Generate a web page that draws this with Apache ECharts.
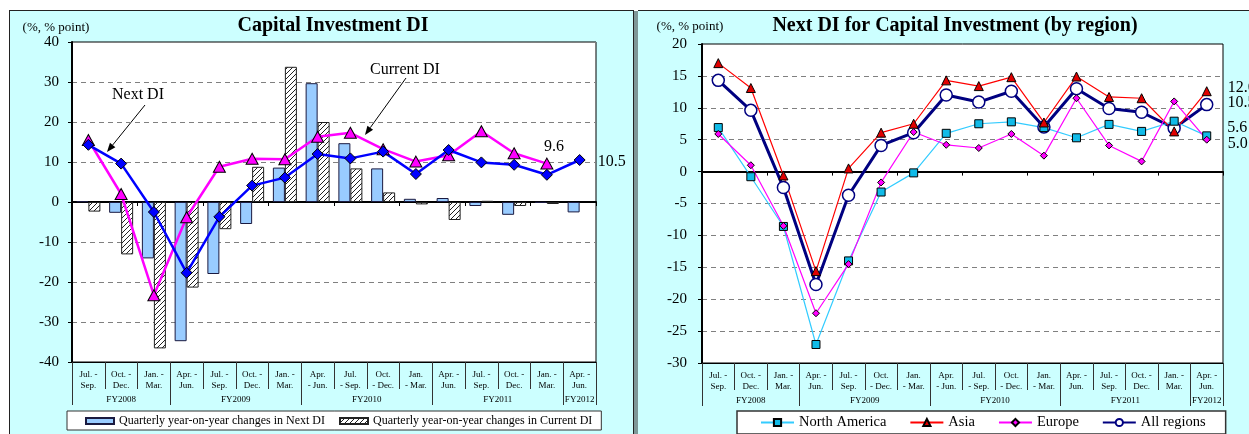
<!DOCTYPE html>
<html>
<head>
<meta charset="utf-8">
<script src="https://cdn.jsdelivr.net/npm/echarts@6/dist/echarts.min.js"></script>
<style>
  html, body { margin: 0; padding: 0; background: #fff; width: 1249px; height: 434px; overflow: hidden; }
  .panel { position: absolute; background: #ccffff; box-sizing: border-box; }
  #panelLeft { left: 9px; top: 10px; width: 625px; height: 440px; border-left: 1px solid #222; border-top: 1px solid #222; border-right: 1px solid #222; }
  #divider { position: absolute; left: 634px; top: 11px; width: 4px; height: 440px; background: #7e9898; }
  #panelRight { left: 638px; top: 10px; width: 640px; height: 440px; border-top: 1px solid #222; }
  #chart { position: absolute; left: 0; top: 0; width: 1249px; height: 434px; }
</style>
</head>
<body>
<div class="panel" id="panelLeft"></div>
<div id="divider"></div>
<div class="panel" id="panelRight"></div>
<div id="chart"></div>
<script>
// ---- quarters and fiscal years ----
const quartersLeft = ['Jul. -\nSep.', 'Oct. -\nDec.', 'Jan. -\nMar.', 'Apr. -\nJun.', 'Jul. -\nSep.', 'Oct. -\nDec.', 'Jan. -\nMar.',
  'Apr.\n- Jun.', 'Jul.\n- Sep.', 'Oct.\n- Dec.', 'Jan.\n- Mar.', 'Apr. -\nJun.', 'Jul. -\nSep.', 'Oct. -\nDec.', 'Jan. -\nMar.', 'Apr. -\nJun.'];
const quartersRight = ['Jul. -\nSep.', 'Oct. -\nDec.', 'Jan. -\nMar.', 'Apr. -\nJun.', 'Jul. -\nSep.', 'Oct.\n- Dec.', 'Jan.\n- Mar.',
  'Apr.\n- Jun.', 'Jul.\n- Sep.', 'Oct.\n- Dec.', 'Jan.\n- Mar.', 'Apr. -\nJun.', 'Jul. -\nSep.', 'Oct. -\nDec.', 'Jan. -\nMar.', 'Apr. -\nJun.'];
const fiscalYears = ['FY2008', 'FY2009', 'FY2010', 'FY2011', 'FY2012'];
const fiscalYearBounds = [0, 3, 7, 11, 15, 16];   // quarter index where each fiscal year starts (last = end)

// ---- Capital Investment DI (%, % point) ----
const nextDI = [14.3, 9.6, -2.5, -17.7, -3.7, 4.1, 6.1, 12.0, 10.9, 12.6, 7.0, 13.0, 9.9, 9.3, 6.8, 10.5];
const currentDI = [15.5, 2.0, -23.3, -3.8, 8.8, 10.8, 10.7, 16.3, 17.3, 13.2, 10.1, 11.7, 17.7, 12.2, 9.6, null];
const nextDIChange = [0.2, -2.7, -14.1, -34.8, -18.0, -5.5, 8.6, 29.7, 14.7, 8.4, 0.8, 1.0, -1.0, -3.2, -0.2, -2.6];
const currentDIChange = [-2.4, -13.1, -36.6, -21.4, -6.8, 8.8, 33.8, 20.0, 8.4, 2.4, -0.6, -4.5, 0.3, -1.0, -0.5, null];

// ---- Next DI by region ----
const northAmerica = [6.9, -0.8, -8.6, -27.1, -14.0, -3.2, -0.2, 6.0, 7.5, 7.8, 6.9, 5.3, 7.4, 6.3, 7.9, 5.6];
const asia = [17.0, 13.1, -0.6, -15.6, 0.5, 6.1, 7.5, 14.3, 13.4, 14.8, 7.7, 14.9, 11.7, 11.5, 6.3, 12.6];
const europe = [5.9, 1.0, -8.5, -22.2, -14.5, -1.7, 6.2, 4.2, 3.7, 5.9, 2.5, 11.5, 4.1, 1.6, 11.0, 5.0];
const allRegions = [14.3, 9.6, -2.5, -17.7, -3.7, 4.1, 6.1, 12.0, 10.9, 12.6, 7.0, 13.0, 9.9, 9.3, 6.8, 10.5];

const SERIF = "'Liberation Serif', 'Times New Roman', serif";

// diagonal hatch used for the Current DI change bars
function hatchPattern() {
  const s = 5;
  const c = document.createElement('canvas');
  c.width = s; c.height = s;
  const g = c.getContext('2d');
  g.fillStyle = '#fff'; g.fillRect(0, 0, s, s);
  g.strokeStyle = '#222'; g.lineWidth = 1;
  g.beginPath();
  g.moveTo(0, s); g.lineTo(s, 0);
  g.moveTo(-1, 1); g.lineTo(1, -1);
  g.moveTo(s - 1, s + 1); g.lineTo(s + 1, s - 1);
  g.stroke();
  return { image: c, repeat: 'repeat' };
}

// put a value label on one point of a series
function labelAt(values, index, label) {
  return values.map((v, i) => i === index ? { value: v, label: Object.assign({ show: true, fontFamily: SERIF, fontSize: 16, color: '#000', formatter: p => Number(p.value).toFixed(1) }, label) } : v);
}

// three x axes per grid: quarter labels, zero line, fiscal-year row
function quarterAxes(gridIndex, quarters) {
  const fyCenters = fiscalYears.map((_, k) => (fiscalYearBounds[k] + fiscalYearBounds[k + 1]) / 2);
  return [
    {
      type: 'category', gridIndex, data: quarters, position: 'bottom',
      axisLine: { onZero: false, lineStyle: { color: '#000', width: 1 } },
      axisTick: { show: true, length: 27, lineStyle: { color: '#333' } },
      axisLabel: { interval: 0, fontFamily: SERIF, fontSize: 9, lineHeight: 11, color: '#000', margin: 7 },
      splitLine: { show: false }
    },
    {
      type: 'category', gridIndex, data: quarters, position: 'top',
      axisLine: { onZero: true, lineStyle: { color: '#000', width: 2 } },
      axisTick: { show: true, inside: true, length: 4, lineStyle: { color: '#000' } },
      axisLabel: { show: false }, splitLine: { show: false }
    },
    {
      type: 'value', gridIndex, min: 0, max: quarters.length, position: 'bottom',
      axisLine: { show: false, onZero: false },
      splitLine: { show: false },
      axisTick: { show: true, length: 43, customValues: fiscalYearBounds, lineStyle: { color: '#333' } },
      axisLabel: {
        customValues: fyCenters, margin: 33, fontFamily: SERIF, fontSize: 9, color: '#000',
        formatter: v => { const k = fyCenters.indexOf(v); return k >= 0 ? fiscalYears[k] : ''; }
      }
    }
  ];
}

function valueAxis(gridIndex, min, max, interval, margin) {
  return {
    type: 'value', gridIndex, min, max, interval,
    axisLine: { show: true, onZero: false, lineStyle: { color: '#000', width: 2 } },
    axisTick: { show: true, length: 4, lineStyle: { color: '#000' } },
    axisLabel: { fontFamily: SERIF, fontSize: 15, color: '#000', margin },
    splitLine: { show: true, lineStyle: { color: '#808080', type: [5, 4], width: 1 } }
  };
}

function arrow(x1, y1, x2, y2) {
  const dx = x2 - x1, dy = y2 - y1, len = Math.hypot(dx, dy);
  const ux = dx / len, uy = dy / len, h = 9, w = 3.5;
  const bx = x2 - ux * h, by = y2 - uy * h;
  return [
    { type: 'line', shape: { x1, y1, x2: bx, y2: by }, style: { stroke: '#000', lineWidth: 1 } },
    { type: 'polygon', shape: { points: [[x2, y2], [bx - uy * w, by + ux * w], [bx + uy * w, by - ux * w]] }, style: { fill: '#000' } }
  ];
}

function text(x, y, str, font, align) {
  return { type: 'text', x, y, style: { text: str, font, fill: '#000', align: align || 'center', verticalAlign: 'middle' } };
}

const chart = echarts.init(document.getElementById('chart'), null, { renderer: 'canvas' });

const option = {
  animation: false,
  backgroundColor: 'transparent',
  grid: [
    { left: 72, top: 42, width: 524, height: 320, show: true, backgroundColor: '#fff', borderColor: '#000', borderWidth: 1 },
    { left: 702, top: 44, width: 521, height: 319, show: true, backgroundColor: '#fff', borderColor: '#000', borderWidth: 1 }
  ],
  xAxis: [...quarterAxes(0, quartersLeft), ...quarterAxes(1, quartersRight)],
  yAxis: [valueAxis(0, -40, 40, 10, 13), valueAxis(1, -30, 20, 5, 15)],
  legend: [
    {
      data: ['Quarterly year-on-year changes in Next DI', 'Quarterly year-on-year changes in Current DI'],
      left: 67, top: 411, itemWidth: 28, itemHeight: 6, itemGap: 14, icon: 'rect',
      padding: [4, 9, 3, 18], backgroundColor: '#fff', borderColor: '#333', borderWidth: 1, borderRadius: 0,
      textStyle: { fontFamily: SERIF, fontSize: 12, color: '#000' }
    },
    {
      data: ['North America', 'Asia', 'Europe', 'All regions'],
      left: 737, top: 411, itemWidth: 33, itemHeight: 9, itemGap: 23,
      padding: [4, 20, 4, 23], backgroundColor: '#fff', borderColor: '#333', borderWidth: 1.5, borderRadius: 0,
      textStyle: { fontFamily: SERIF, fontSize: 14.5, color: '#000' }
    }
  ],
  graphic: [
    text(333, 26, 'Capital Investment DI', 'bold 20px ' + SERIF),
    text(955, 26, 'Next DI for Capital Investment (by region)', 'bold 20px ' + SERIF),
    text(56, 28, '(%, % point)', '13px ' + SERIF),
    text(690, 27, '(%, % point)', '13px ' + SERIF),
    text(138, 95, 'Next DI', '16px ' + SERIF),
    text(405, 70, 'Current DI', '16px ' + SERIF),
    ...arrow(145, 105, 107, 152),
    ...arrow(406, 78, 365, 135)
  ],
  series: [
    {
      name: 'Quarterly year-on-year changes in Next DI', type: 'bar', xAxisIndex: 0, yAxisIndex: 0,
      data: nextDIChange, barWidth: 12, barGap: '0%',
      itemStyle: { color: '#99ccff', borderColor: '#1a1a40', borderWidth: 1 }
    },
    {
      name: 'Quarterly year-on-year changes in Current DI', type: 'bar', xAxisIndex: 0, yAxisIndex: 0,
      data: currentDIChange, barWidth: 12, barGap: '0%',
      itemStyle: { color: hatchPattern(), borderColor: '#222', borderWidth: 1 }
    },
    {
      name: 'Current DI', type: 'line', xAxisIndex: 0, yAxisIndex: 0,
      data: labelAt(currentDI, 14, { position: 'top', distance: 3, offset: [7, 0] }),
      symbol: 'triangle', symbolSize: [12, 11], lineStyle: { color: '#ff00ff', width: 2.5 },
      itemStyle: { color: '#ff00ff', borderColor: '#000', borderWidth: 1 }
    },
    {
      name: 'Next DI', type: 'line', xAxisIndex: 0, yAxisIndex: 0,
      data: labelAt(nextDI, 15, { position: 'right', distance: 12, offset: [0, 2] }),
      symbol: 'diamond', symbolSize: 11, lineStyle: { color: '#0000ff', width: 2.5 },
      itemStyle: { color: '#0000ff', borderColor: '#000', borderWidth: 1 }
    },
    {
      name: 'All regions', type: 'line', xAxisIndex: 3, yAxisIndex: 1,
      data: labelAt(allRegions, 15, { position: 'right', distance: 14, offset: [0, -2] }),
      symbol: 'circle', symbolSize: 12, lineStyle: { color: '#000080', width: 3 },
      itemStyle: { color: '#fff', borderColor: '#000080', borderWidth: 1.5 }
    },
    {
      name: 'North America', type: 'line', xAxisIndex: 3, yAxisIndex: 1,
      data: labelAt(northAmerica, 15, { position: 'right', distance: 16, offset: [0, -8] }),
      symbol: 'rect', symbolSize: 8, lineStyle: { color: '#33ccff', width: 1.2 },
      itemStyle: { color: '#11bbe8', borderColor: '#000', borderWidth: 1 }
    },
    {
      name: 'Asia', type: 'line', xAxisIndex: 3, yAxisIndex: 1,
      data: labelAt(asia, 15, { position: 'right', distance: 16, offset: [0, -3] }),
      symbol: 'triangle', symbolSize: 9, lineStyle: { color: '#ff0000', width: 1.2 },
      itemStyle: { color: '#e00000', borderColor: '#000', borderWidth: 1 }
    },
    {
      name: 'Europe', type: 'line', xAxisIndex: 3, yAxisIndex: 1,
      data: labelAt(europe, 15, { position: 'right', distance: 17, offset: [0, 4] }),
      symbol: 'diamond', symbolSize: 7, lineStyle: { color: '#ff00ff', width: 1.2 },
      itemStyle: { color: '#ff00ff', borderColor: '#000', borderWidth: 1 }
    }
  ]
};

chart.setOption(option);
</script>
</body>
</html>
